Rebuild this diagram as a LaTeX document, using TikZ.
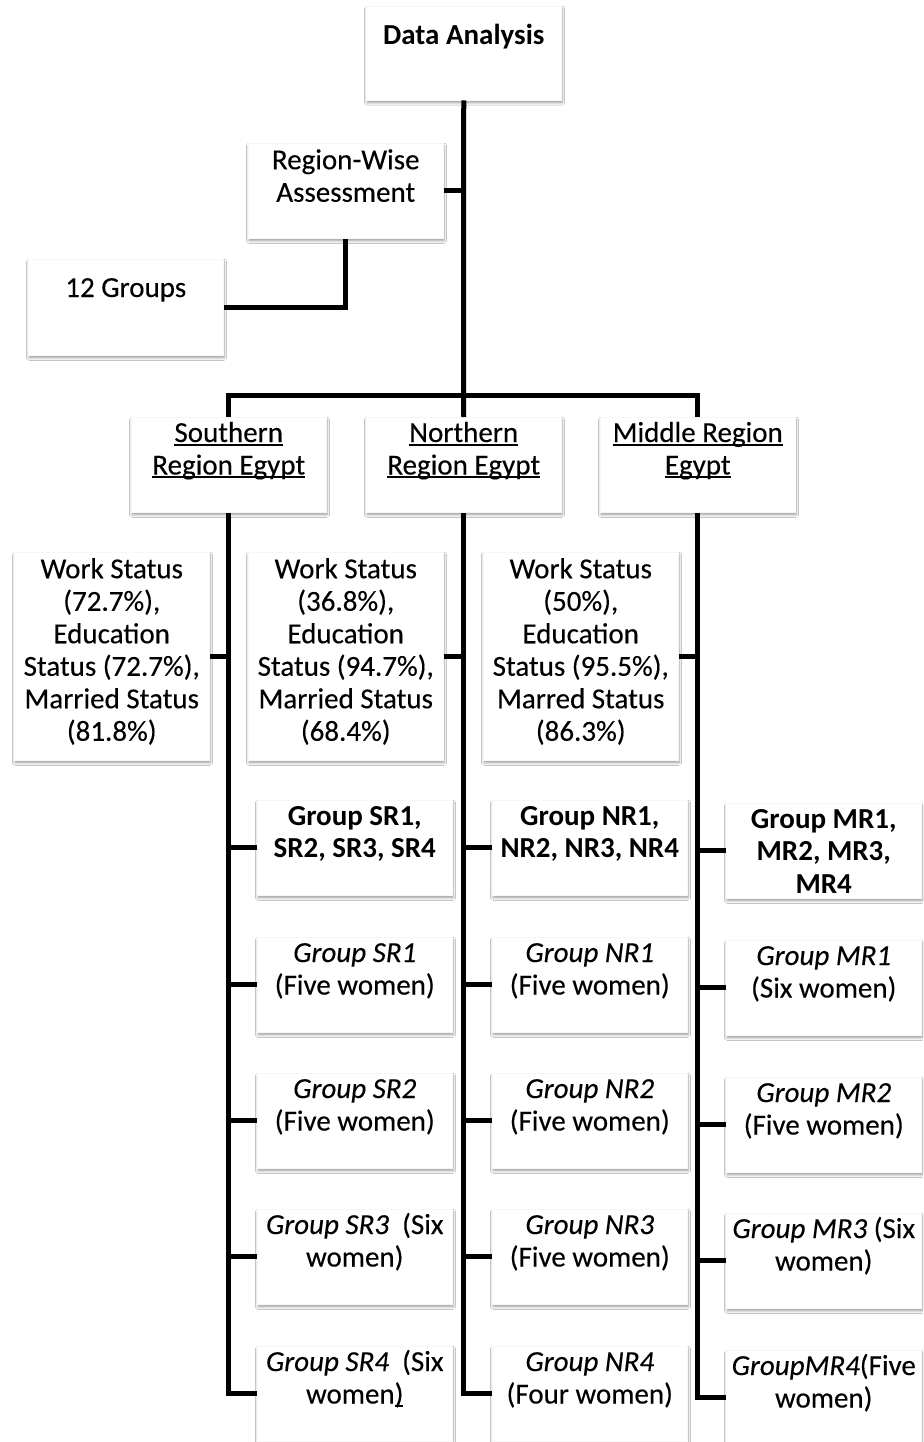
\documentclass[tikz,border=0pt]{standalone}
\usepackage{fontspec}
\setmainfont{Carlito}[UprightFeatures={FakeBold=0.25}, ItalicFeatures={FakeBold=0.25}]
\usetikzlibrary{shadows,shadows.blur}
\newcommand{\myul}[1]{\leavevmode\setbox0\hbox{#1}\rlap{\rule[-3.5pt]{\wd0}{1.7pt}}\box0}
\newcommand{\bt}[3][3.25pt]{\parbox[c][#2][t]{195pt}{\centering\vspace*{#1}\strut #3\par}}
\tikzset{
  box/.style={fill=white, draw=black!3, line width=0.5pt, inner sep=0pt, anchor=north west,
    blur shadow={shadow xshift=0.8pt, shadow yshift=-2.5pt, shadow blur steps=6,
      shadow blur radius=2.5pt, shadow opacity=40}},
  conn/.style={line width=5pt, black},
}
\begin{document}
\begin{tikzpicture}[x=1pt, y=-1pt, every node/.style={font=\fontsize{29}{32.5}\selectfont}]
\useasboundingbox (0,0) rectangle (923,1442);
\fill[white] (0,0) rectangle (923,1442);

% top
\node[box] (da) at (366,6) {\bt[16pt]{94pt}{\textbf{Data Analysis}}};
\node[box] (rw) at (248,143) {\bt{95pt}{Region-Wise\\Assessment}};
\node[box] (tg) at (28,259) {\bt[15pt]{96pt}{12 Groups}};

% regions
\node[box] (sr) at (131,417) {\bt[2pt]{95pt}{\myul{Southern}\\\myul{Region Egypt}}};
\node[box] (nr) at (366,417) {\bt[2pt]{95pt}{\myul{Northern}\\\myul{Region Egypt}}};
\node[box] (mr) at (600,417) {\bt[2pt]{95pt}{\myul{Middle Region}\\\myul{Egypt}}};

% work status
\node[box] (ws) at (14,552) {\bt{208pt}{Work Status\\(72.7\%),\\Education\\Status (72.7\%),\\Married Status\\(81.8\%)}};
\node[box] (wn) at (248,552) {\bt{208pt}{Work Status\\(36.8\%),\\Education\\Status (94.7\%),\\Married Status\\(68.4\%)}};
\node[box] (wm) at (483,552) {\bt{208pt}{Work Status\\(50\%),\\Education\\Status (95.5\%),\\Marred Status\\(86.3\%)}};

% southern groups
\node[box] (sb) at (257,800) {\bt[2pt]{95pt}{\textbf{Group SR1,}\\\textbf{SR2, SR3, SR4}}};
\node[box] (s1) at (257,937) {\bt[2pt]{95pt}{\textit{Group SR1}\\(Five women)}};
\node[box] (s2) at (257,1073) {\bt[2pt]{95pt}{\textit{Group SR2}\\(Five women)}};
\node[box] (s3) at (257,1209) {\bt[2pt]{95pt}{\textit{Group SR3}\ \ (Six\\women)}};
\node[box] (s4) at (257,1346) {\bt[2pt]{95pt}{\textit{Group SR4}\ \ (Six\\women\myul{)}}};

% northern groups
\node[box] (nb) at (492,800) {\bt[2pt]{95pt}{\textbf{Group NR1,}\\\textbf{NR2, NR3, NR4}}};
\node[box] (n1) at (492,937) {\bt[2pt]{95pt}{\textit{Group NR1}\\(Five women)}};
\node[box] (n2) at (492,1073) {\bt[2pt]{95pt}{\textit{Group NR2}\\(Five women)}};
\node[box] (n3) at (492,1209) {\bt[2pt]{95pt}{\textit{Group NR3}\\(Five women)}};
\node[box] (n4) at (492,1346) {\bt[2pt]{95pt}{\textit{Group NR4}\\(Four women)}};

% middle groups
\node[box] (mb) at (726,803) {\bt[2pt]{95pt}{\textbf{Group MR1,}\\\textbf{MR2, MR3,}\\\textbf{MR4}}};
\node[box] (m1) at (726,940) {\bt[2pt]{95pt}{\textit{Group MR1}\\(Six women)}};
\node[box] (m2) at (726,1077) {\bt[2pt]{95pt}{\textit{Group MR2}\\(Five women)}};
\node[box] (m3) at (726,1213) {\bt[2pt]{95pt}{\textit{Group MR3} (Six\\women)}};
\node[box] (m4) at (726,1350) {\bt[2pt]{95pt}{\textit{GroupMR4}(Five\\women)}};

% connectors
\coordinate (bar) at (463.5,395);
\draw[conn] (da.south) -- (bar);
\draw[conn] (rw.east) -- (rw.east -| da.south);
\draw[conn] (tg.east) -| (rw.south);
\draw[conn] (sr.north) |- (bar) -| (mr.north);
\draw[conn] (bar) -- (nr.north);

\draw[conn] (sr.south) |- (s4.west);
\draw[conn] (nr.south) |- (n4.west);
\draw[conn] (mr.south) |- (m4.west);

\draw[conn] (ws.east) -- (ws.east -| sr.south);
\draw[conn] (wn.east) -- (wn.east -| nr.south);
\draw[conn] (wm.east) -- (wm.east -| mr.south);

\foreach \g in {sb,s1,s2,s3} \draw[conn] (\g.west) -- (\g.west -| sr.south);
\foreach \g in {nb,n1,n2,n3} \draw[conn] (\g.west) -- (\g.west -| nr.south);
\foreach \g in {mb,m1,m2,m3} \draw[conn] (\g.west) -- (\g.west -| mr.south);
\end{tikzpicture}
\end{document}
